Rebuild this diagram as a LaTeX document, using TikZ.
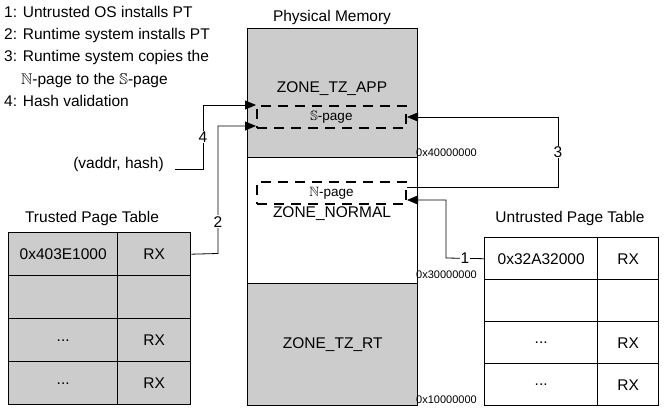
\documentclass[tikz,border=0pt]{standalone}
\usepackage{amssymb}
\usepackage{fontspec}
\setmainfont{Liberation Sans}
\usetikzlibrary{arrows.meta}
\newcommand{\mydots}{...}
\begin{document}
\begin{tikzpicture}[x=1pt,y=-1pt,
  txt/.style={font=\fontsize{15.5}{18}\selectfont,inner sep=0pt},
  hex/.style={font=\fontsize{11}{12}\selectfont,inner sep=0pt,anchor=west},
  cell/.style={draw,line width=1.4pt,minimum height=43pt,font=\fontsize{15.5}{18}\selectfont,inner sep=0pt},
  zone/.style={draw,line width=1.4pt,minimum width=170pt,font=\fontsize{15.5}{18}\selectfont,inner sep=0pt},
  page/.style={draw,dashed,dash pattern=on 10pt off 7pt,line width=2pt,minimum width=149pt,minimum height=22pt,inner sep=0pt,font=\fontsize{13.5}{15}\selectfont},
  conn/.style={line width=0.8pt},
  arr/.style={conn,-{Triangle[length=11pt,width=9pt]}}]
\useasboundingbox (0,0) rectangle (665,414);
% legend
\node[txt,anchor=west] (l1) at (4,12) {1: Untrusted OS installs PT};
\node[txt,anchor=west] (l2) at (4,35) {2: Runtime system installs PT};
\node[txt,anchor=west] (l3) at (4,57) {3: Runtime system copies the};
\node[txt,anchor=west] (l3b) at (21,80) {$\mathbb{N}$-page to the $\mathbb{S}$-page};
\node[txt,anchor=west] (l4) at (4,101) {4: Hash validation};
\node[txt] (pm) at (332,17) {Physical Memory};
% memory zones
\node[zone,fill=black!20,minimum height=129pt,anchor=north west] (app) at (247,28) {};
\node[zone,fill=white,minimum height=126pt,anchor=north west] (normal) at (247,157) {};
\node[zone,fill=black!20,minimum height=122pt,anchor=north west] (rt) at (247,283) {ZONE\_TZ\_RT};
\node[txt] (appl) at (332,89) {ZONE\_TZ\_APP};
\node[txt] (norml) at (332,214) {ZONE\_NORMAL};
\node[page] (spage) at (331.5,117) {$\mathbb{S}$-page};
\node[page] (npage) at (331.5,193) {$\mathbb{N}$-page};
\node[hex] (h4) at (416,153) {0x40000000};
\node[hex] (h3) at (416,275) {0x30000000};
\node[hex] (h1) at (416,400) {0x10000000};
% trusted table
\node[txt] (tpt) at (92,218) {Trusted Page Table};
\foreach \r/\a/\b [count=\i] in {0/0x403E1000/RX,1//,2/\mydots/RX,3/\mydots/RX}{
  \node[cell,fill=black!20,minimum width=109pt,anchor=north west] (ta\i) at (8,232+43*\r) {\a};
  \node[cell,fill=black!20,minimum width=73pt,anchor=north west] (tb\i) at (117,232+43*\r) {\b};
}
% untrusted table
\node[txt] (upt) at (570,218) {Untrusted Page Table};
\foreach \r/\a/\b [count=\i] in {0/0x32A32000/RX,1//,2/\mydots/RX,3/\mydots/RX}{
  \node[cell,fill=white,minimum width=113pt,minimum height=42pt,anchor=north west] (ua\i) at (484,237+42*\r) {\a};
  \node[cell,fill=white,minimum width=61pt,minimum height=42pt,anchor=north west] (ub\i) at (597,237+42*\r) {\b};
}
% (vaddr, hash)
\node[txt,anchor=east] (vh) at (164,164) {(vaddr, hash)};
\coordinate (vhs) at (175,169);
% arrow 4
\draw[arr] (vhs) -- (203,169) -- node[txt,fill=white,inner sep=1pt,pos=0.5] {4} (203,105) -- (spage.west|-0,105);
% arrow 2
\draw[arr] (tb1.east) -- (218,253.5) -- node[txt,fill=white,inner sep=1pt,pos=0.25] {2} (218,126) -- (spage.west|-0,126);
% arrow 3
\draw[arr] (npage.east|-0,187) -- (558,187) -- node[txt,fill=white,inner sep=1pt,pos=0.5] {3} (558,117) -- (spage.east);
% arrow 1
\draw[arr] (ua1.west) -- node[txt,fill=white,inner sep=1pt] {1} (446,258) -- (446,200) -- (npage.east|-0,200);
\end{tikzpicture}
\end{document}
